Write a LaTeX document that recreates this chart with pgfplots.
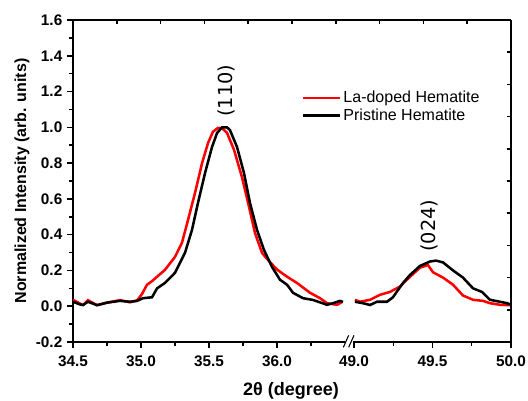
\documentclass[border=0pt]{standalone}
\usepackage{fontspec}
\setmainfont{Liberation Sans}
\newfontfamily\annfont{DejaVu Sans}
\usepackage{pgfplots}
\pgfplotsset{compat=1.18}

% 1 px of the 528x400 reference = 0.75pt
\pgfplotsset{
  xrdbase/.style={
    scale only axis, height=241.5pt,
    ymin=-0.2, ymax=1.6,
    axis line style={line width=1.1pt, -},
    tick style={line width=1.1pt, black},
    tick align=outside,
    major tick length=4.5pt, minor tick length=3pt,
    ticklabel style={font=\fontsize{11.5}{13}\selectfont\bfseries},
    xticklabel style={yshift=-2.5pt},
    /pgf/number format/fixed,
    /pgf/number format/fixed zerofill,
    /pgf/number format/precision=1,
    /pgf/number format/assume math mode=true,
  },
}

\begin{document}
\begin{tikzpicture}
\useasboundingbox (0,0) rectangle (396pt,-300pt);

% left segment
\begin{axis}[xrdbase, at={(54.75pt,-15pt)}, anchor=north west, width=207.375pt,
  xmin=34.5, xmax=36.533,
  axis x line*=bottom, axis y line*=left,
  xtick={34.5,35.0,35.5,36.0}, minor xtick={34.75,35.25,35.75,36.25},
  ytick={-0.2,0,0.2,0.4,0.6,0.8,1.0,1.2,1.4,1.6},
  minor ytick={-0.1,0.1,0.3,0.5,0.7,0.9,1.1,1.3,1.5},
  legend style={at={(0.8246,0.73)}, anchor=west, draw=none, fill=none,
    font=\fontsize{12}{14}\selectfont, inner sep=0pt,
    nodes={inner xsep=2pt, inner ysep=1.5pt}},
  legend cell align=left,
  legend image code/.code={\draw[#1] (0pt,0pt) -- (27.75pt,0pt);},
]
\addplot[red, line width=1.9pt] coordinates {
(34.500,0.036) (34.551,0.015) (34.574,0.007) (34.610,0.034) (34.676,0.006)
(34.750,0.020) (34.846,0.034) (34.919,0.022) (34.971,0.032) (35.007,0.068)
(35.044,0.120) (35.081,0.140) (35.118,0.165) (35.176,0.203) (35.250,0.276)
(35.301,0.354) (35.346,0.483) (35.397,0.633) (35.449,0.800) (35.493,0.913)
(35.529,0.975) (35.566,0.997) (35.596,0.995) (35.632,0.970) (35.684,0.874)
(35.743,0.720) (35.794,0.556) (35.838,0.410) (35.890,0.298) (35.926,0.265)
(36.000,0.205) (36.074,0.165) (36.147,0.130) (36.243,0.075) (36.316,0.045)
(36.368,0.017) (36.441,0.008) (36.478,0.024)
};
\addlegendentry{La-doped Hematite}
\addplot[black, line width=1.9pt] coordinates {
(34.500,0.025) (34.551,0.010) (34.574,0.007) (34.610,0.025) (34.676,0.006)
(34.750,0.020) (34.846,0.030) (34.919,0.025) (34.971,0.030) (35.015,0.045)
(35.081,0.050) (35.118,0.100) (35.176,0.130) (35.250,0.187) (35.324,0.300)
(35.375,0.427) (35.419,0.578) (35.471,0.745) (35.522,0.890) (35.559,0.968)
(35.596,1.000) (35.632,1.000) (35.654,0.985) (35.706,0.890) (35.757,0.745)
(35.801,0.578) (35.853,0.427) (35.904,0.315) (35.963,0.220) (36.022,0.148)
(36.074,0.120) (36.118,0.075) (36.191,0.045) (36.265,0.035) (36.368,0.008)
(36.412,0.017) (36.463,0.030) (36.485,0.024)
};
\addlegendentry{Pristine Hematite}
\end{axis}

% right segment
\begin{axis}[xrdbase, at={(262.125pt,-15pt)}, anchor=north west, width=121.125pt,
  xmin=48.9713, xmax=50.0,
  axis x line*=bottom, axis y line=none, ytick=\empty,
  xtick={49.0,49.5,50.0}, minor xtick={49.25,49.75},
]
\addplot[red, line width=1.9pt] coordinates {
(49.006,0.036) (49.038,0.025) (49.102,0.036) (49.166,0.064) (49.229,0.080)
(49.293,0.110) (49.357,0.165) (49.420,0.215) (49.471,0.230) (49.503,0.190)
(49.567,0.160) (49.631,0.120) (49.694,0.060) (49.758,0.036) (49.822,0.030)
(49.866,0.017) (49.930,0.008) (49.994,0.006)
};
\addplot[black, line width=1.9pt] coordinates {
(49.006,0.025) (49.057,0.017) (49.102,0.007) (49.146,0.025) (49.210,0.025)
(49.248,0.050) (49.312,0.130) (49.357,0.175) (49.420,0.225) (49.484,0.250)
(49.522,0.255) (49.567,0.245) (49.631,0.200) (49.694,0.160) (49.758,0.100)
(49.815,0.080) (49.866,0.036) (49.930,0.025) (49.975,0.017) (49.994,0.010)
};
\end{axis}

% frame: top and right lines with inward ticks
\begin{axis}[scale only axis, at={(54.75pt,-15pt)}, anchor=north west,
  width=328.5pt, height=241.5pt, xmin=0, xmax=10, ymin=0, ymax=10,
  axis x line*=top, axis y line*=right,
  axis line style={line width=1.1pt, -}, tick style={line width=1.1pt, black},
  tick align=inside, major tick length=3pt,
  xtick={1,2,3,4,5,6,7,8,9}, ytick={1,2,3,4,5,6,7,8,9},
  xticklabels={}, yticklabels={},
]
\end{axis}

% axis break
\fill[white] (259pt,-254pt) rectangle (265pt,-259pt);
\draw[line width=0.8pt] (257.5pt,-260.5pt) -- (261.5pt,-251.5pt);
\draw[line width=0.8pt] (261.5pt,-260.5pt) -- (265.5pt,-251.5pt);

% labels
\node[rotate=90, font=\fontsize{12}{14}\selectfont\bfseries] at (16.5pt,-135.75pt)
  {Normalized Intensity (arb. units)};
\node[font=\fontsize{13.5}{16}\selectfont\bfseries] at (218.25pt,-293pt) {2θ (degree)};
\node[rotate=90, anchor=west, inner sep=0pt, font={\fontsize{14.5}{17}\selectfont\annfont}]
  at (169.5pt,-87.75pt) {(110)};
\node[rotate=90, anchor=west, inner sep=0pt, font={\fontsize{14.5}{17}\selectfont\annfont}]
  at (321.75pt,-189pt) {(024)};
\end{tikzpicture}
\end{document}
